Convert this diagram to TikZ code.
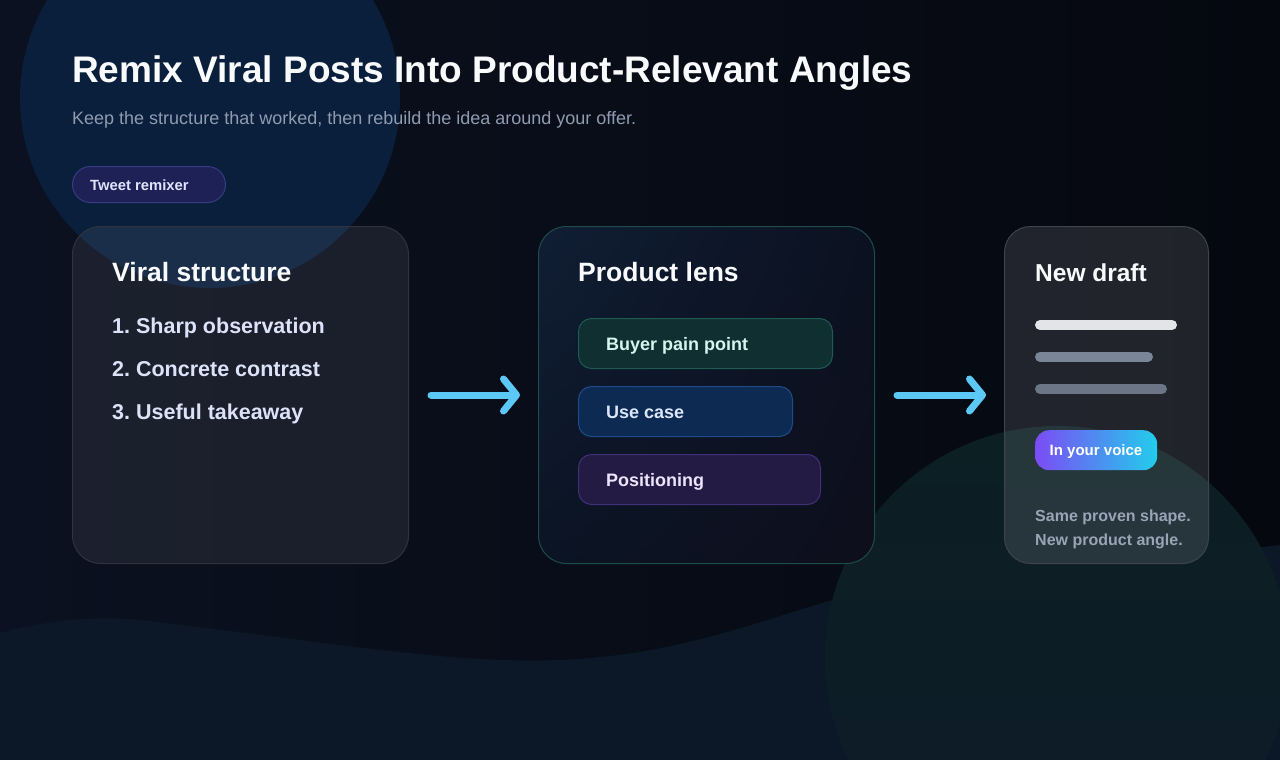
\documentclass[tikz,border=0pt]{standalone}
\usepackage{fontspec}
\setmainfont{Liberation Sans}
\usetikzlibrary{arrows.meta,shadings}
\frenchspacing
\definecolor{bgL}{HTML}{0B1120}
\definecolor{bgR}{HTML}{05080F}
\definecolor{blobBlue}{HTML}{0A1F3C}
\definecolor{blobGreenTop}{HTML}{0C1F23}
\definecolor{blobGreenBot}{HTML}{0E1B29}
\definecolor{waveC}{HTML}{0C1828}
\definecolor{titleC}{HTML}{F8FAFC}
\definecolor{subC}{HTML}{8F9BB0}
\definecolor{tagF}{HTML}{1E2156}
\definecolor{tagB}{HTML}{363B84}
\definecolor{tagT}{HTML}{E0E4FF}
\definecolor{listC}{HTML}{DCE3F8}
\definecolor{cardOneB}{HTML}{2E333E}
\definecolor{cardTwoB}{HTML}{1D4D4B}
\definecolor{cardThreeB}{HTML}{3E434C}
\definecolor{ctUL}{HTML}{101E34}
\definecolor{ctUR}{HTML}{0B1120}
\definecolor{ctLL}{HTML}{0B1424}
\definecolor{ctLR}{HTML}{0E0E1C}
\definecolor{chipAF}{HTML}{0F2F31}
\definecolor{chipAB}{HTML}{1F5A52}
\definecolor{chipAT}{HTML}{D5F5EE}
\definecolor{chipBF}{HTML}{0C2A52}
\definecolor{chipBB}{HTML}{1E4C8A}
\definecolor{chipBT}{HTML}{DBE6FB}
\definecolor{chipCF}{HTML}{241B45}
\definecolor{chipCB}{HTML}{40307A}
\definecolor{chipCT}{HTML}{EBE4FA}
\definecolor{arrowC}{HTML}{5CC8F6}
\definecolor{lineA}{HTML}{E2E4E8}
\definecolor{lineB}{HTML}{7A8597}
\definecolor{lineC}{HTML}{6B7585}
\definecolor{pillL}{HTML}{7B4CF5}
\definecolor{pillR}{HTML}{22CDEC}
\definecolor{noteC}{HTML}{9AA4B6}
\tikzset{
  txt/.style={anchor=base west, inner sep=0pt},
  cardbox/.style={rounded corners=28pt, line width=1pt, anchor=north west, minimum height=337pt},
  chipbox/.style={rounded corners=13pt, line width=1pt, anchor=north west, minimum height=50pt},
  titlefont/.style={font=\bfseries\fontsize{26.5}{30}\selectfont, text=titleC},
  listfont/.style={font=\bfseries\fontsize{21.5}{26}\selectfont, text=listC},
  chipfont/.style={font=\bfseries\fontsize{18}{22}\selectfont},
  flow/.style={line width=7pt, draw=arrowC, line cap=round, shorten <=22pt, shorten >=18pt,
    -{Straight Barb[length=13pt, width=32pt, round]}},
  bar/.style={line width=10pt, line cap=round}
}
\begin{document}
\begin{tikzpicture}[x=1pt,y=-1pt]
\useasboundingbox (0,0) rectangle (1280,760);
% background
\shade[left color=bgL, right color=bgR] (0,0) rectangle (1280,760);
\fill[blobBlue] (210,98) circle[radius=190pt];
\fill[waveC] (0,633) .. controls (40,622) and (90,615) .. (140,620)
  .. controls (300,638) and (450,665) .. (560,660)
  .. controls (680,655) and (760,620) .. (840,598)
  .. controls (960,565) and (1150,560) .. (1280,545)
  -- (1280,760) -- (0,760) -- cycle;
\shade[top color=blobGreenTop, bottom color=blobGreenBot] (1057,658) circle[radius=232pt];
% header
\node[txt, font=\bfseries\fontsize{37}{40}\selectfont, text=titleC] (title) at (72,82) {Remix Viral Posts Into Product-Relevant Angles};
\node[txt, font=\fontsize{18}{22}\selectfont, text=subC] (sub) at (72,124) {Keep the structure that worked, then rebuild the idea around your offer.};
\node[rounded corners=18pt, fill=tagF, draw=tagB, line width=1pt, minimum width=153pt, minimum height=36pt, anchor=north west] (tag) at (72,166) {};
\node[txt, font=\bfseries\fontsize{14.8}{18}\selectfont, text=tagT] (tagtext) at (90,190) {Tweet remixer};
% cards
\node[cardbox, minimum width=336pt, fill=white, fill opacity=0.07, draw=cardOneB] (c1) at (72,226) {};
\node[cardbox, minimum width=336pt, upper left=ctUL, upper right=ctUR, lower left=ctLL, lower right=ctLR, draw=cardTwoB] (c2) at (538,226) {};
\node[cardbox, minimum width=204pt, rounded corners=26pt, fill=white, fill opacity=0.11, draw=cardThreeB] (c3) at (1004,226) {};
% card 1
\node[txt, titlefont] (t1) at (112,281.7) {Viral structure};
\node[txt, listfont] (l1) at (112,333.5) {1. Sharp observation};
\node[txt, listfont] (l2) at (112,376.7) {2. Concrete contrast};
\node[txt, listfont] (l3) at (112,419.5) {3. Useful takeaway};
% card 2
\node[txt, titlefont] (t2) at (578,281.7) {Product lens};
\node[chipbox, minimum width=254pt, fill=chipAF, draw=chipAB] (ch1) at (578,318) {};
\node[chipbox, minimum width=214pt, fill=chipBF, draw=chipBB] (ch2) at (578,386) {};
\node[chipbox, minimum width=242pt, fill=chipCF, draw=chipCB] (ch3) at (578,454) {};
\node[txt, chipfont, text=chipAT] (ch1t) at (606,350) {Buyer pain point};
\node[txt, chipfont, text=chipBT] (ch2t) at (606,418.3) {Use case};
\node[txt, chipfont, text=chipCT] (ch3t) at (606,486) {Positioning};
% card 3
\node[txt, font=\bfseries\fontsize{24.5}{28}\selectfont, text=titleC] (t3) at (1035,281.7) {New draft};
\draw[bar, lineA] (1040,325) -- (1172,325);
\draw[bar, lineB] (1040,356.7) -- (1148,356.7);
\draw[bar, lineC] (1040,389) -- (1162,389);
\node[rounded corners=14pt, left color=pillL, right color=pillR, minimum width=122pt, minimum height=40pt, inner sep=0pt, anchor=north west] (pill) at (1035,430) {};
\node[anchor=base, inner sep=0pt, font=\bfseries\fontsize{15}{18}\selectfont, text=white] (pilltext) at (1096,455.7) {In your voice};
\node[txt, font=\bfseries\fontsize{16}{20}\selectfont, text=noteC] (n1) at (1035,521.7) {Same proven shape.};
\node[txt, font=\bfseries\fontsize{16}{20}\selectfont, text=noteC] (n2) at (1035,545) {New product angle.};
% connectors
\draw[flow] (c1.east) -- (c2.west);
\draw[flow] (c2.east) -- (c3.west);
\end{tikzpicture}
\end{document}
